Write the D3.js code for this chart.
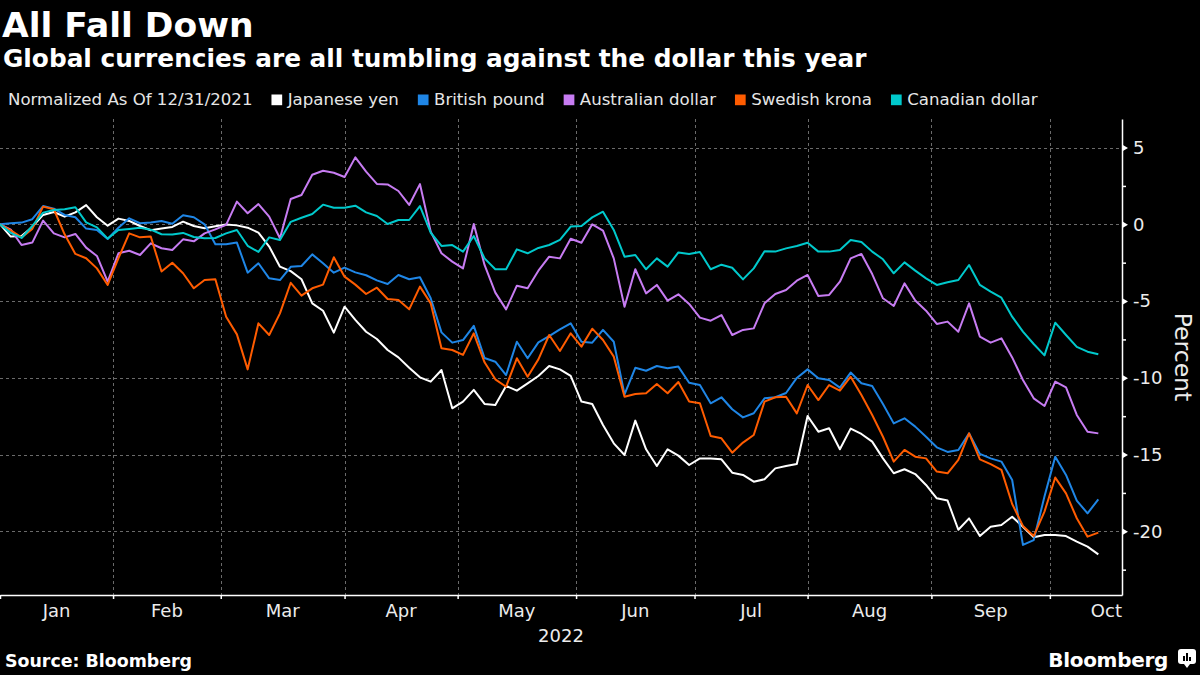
<!DOCTYPE html>
<html>

<head>
    <meta charset="UTF-8">
    <script src="https://cdn.jsdelivr.net/npm/d3@7/dist/d3.min.js"></script>
    <style>
        body {
            margin: 0;
            background-color: #000;
        }

        svg {
            display: block;
        }

        text {
            font-family: 'DejaVu Sans', sans-serif;
        }
    </style>
</head>

<body>
    <svg id="chart" width="1200" height="675"></svg>
    <script>
        // percent change vs USD, normalized as of 12/31/2021
        // one reading every second trading day, starting Mon Jan 3 2022
        var sampleStep = 2;

        var seriesNames = ["Japanese yen", "British pound", "Australian dollar", "Swedish krona", "Canadian dollar"];
        var seriesColors = ["#ffffff", "#1f86e6", "#c77cf2", "#ff5c00", "#00c9cc"];

        var yen = [0, -0.8, -0.76, -0.17, 0.61, 0.8, 0.5, 0.78, 1.25, 0.46,
            -0.09, 0.37, 0.22, -0.11, -0.39, -0.28, -0.17, 0.17, -0.11, -0.26,
            -0.13, -0.02, -0.07, -0.22, -0.54, -1.45, -2.76, -3.05, -3.58, -5.15,
            -5.63, -7.06, -5.37, -6.23, -7.0, -7.47, -8.19, -8.67, -9.34, -9.97,
            -10.25, -9.49, -11.99, -11.55, -10.79, -11.7, -11.77, -10.53, -10.84, -10.36,
            -9.88, -9.23, -9.45, -9.88, -11.55, -11.71, -13.07, -14.27, -15.03, -12.79,
            -14.66, -15.75, -14.66, -15.07, -15.68, -15.25, -15.25, -15.31, -16.18, -16.33,
            -16.77, -16.61, -15.9, -15.75, -15.62, -12.49, -13.51, -13.29, -14.66, -13.31,
            -13.66, -14.16, -15.25, -16.22, -15.96, -16.27, -16.98, -17.85, -18.0, -19.9,
            -19.16, -20.31, -19.7, -19.59, -19.05, -19.7, -20.39, -20.24, -20.24, -20.31,
            -20.67, -21.0, -21.5];

        var pound = [0, 0.07, 0.11, 0.33, 1.19, 1.02, 0.61, 0.46, -0.28, -0.37,
            -0.96, -0.22, 0.39, 0.07, 0.11, 0.22, 0.04, 0.59, 0.46, 0,
            -1.3, -1.3, -1.19, -3.15, -2.54, -3.52, -3.63, -2.77, -2.72, -1.96,
            -2.54, -3.15, -2.82, -3.13, -3.32, -3.65, -3.89, -3.3, -3.58, -3.45,
            -4.82, -7.04, -7.71, -7.54, -6.62, -8.71, -8.95, -9.82, -7.65, -8.73,
            -7.69, -7.28, -6.84, -6.45, -7.65, -7.71, -6.88, -7.65, -11.08, -9.35,
            -9.54, -9.23, -9.38, -9.27, -10.32, -10.47, -11.66, -11.27, -12.05, -12.58,
            -12.31, -11.34, -11.27, -10.99, -10.01, -9.45, -10.03, -10.14, -10.64, -9.66,
            -10.36, -10.53, -11.71, -12.97, -12.64, -13.18, -13.84, -14.53, -14.83, -14.7,
            -13.62, -14.96, -15.25, -15.46, -16.66, -20.89, -20.57, -17.74, -15.14, -16.33,
            -18.0, -18.83, -17.92];

        var aussie = [0, -0.35, -1.35, -1.19, 0.24, -0.59, -0.85, -0.63, -1.52, -2.06,
            -3.73, -1.89, -1.72, -2.0, -1.24, -1.56, -1.67, -0.98, -1.11, -0.59,
            -0.33, -0.04, 1.48, 0.72, 1.32, 0.5, -0.91, 1.65, 1.91, 3.23,
            3.49, 3.36, 3.08, 4.36, 3.43, 2.63, 2.6, 2.17, 1.26, 2.62,
            -0.48, -1.89, -2.43, -2.87, 0.02, -2.65, -4.45, -5.54, -4.0, -4.17,
            -3.02, -2.11, -2.22, -0.94, -1.2, 0.0, -0.41, -2.22, -5.37, -2.93,
            -4.5, -3.95, -4.97, -4.56, -5.19, -6.08, -6.28, -5.91, -7.21, -6.88,
            -6.78, -5.15, -4.54, -4.28, -3.67, -3.3, -4.67, -4.6, -3.74, -2.22,
            -1.93, -3.24, -4.82, -5.32, -3.85, -4.97, -5.63, -6.49, -6.34, -7.0,
            -5.15, -7.32, -7.71, -7.43, -8.67, -10.14, -11.34, -11.84, -10.25, -10.62,
            -12.42, -13.51, -13.62];

        var krona = [0, -0.39, -0.85, -0.3, 1.15, 0.98, -0.65, -1.93, -2.21, -2.87,
            -3.95, -2.21, -0.59, -0.85, -0.8, -3.08, -2.5, -3.19, -4.17, -3.63,
            -3.58, -6.02, -7.17, -9.45, -6.45, -7.21, -5.8, -3.81, -4.65, -4.17,
            -3.93, -2.15, -3.41, -3.93, -4.54, -4.13, -4.87, -4.93, -5.54, -4.06,
            -5.15, -8.08, -8.19, -8.51, -7.1, -8.99, -10.1, -10.58, -8.73, -9.93,
            -8.8, -7.21, -8.25, -7.1, -7.97, -6.8, -7.54, -8.62, -11.23, -11.05,
            -11.01, -10.4, -11.01, -10.27, -11.55, -11.66, -13.79, -13.94, -14.88, -14.22,
            -13.73, -11.55, -11.27, -11.23, -12.32, -10.47, -11.45, -10.47, -10.84, -9.93,
            -11.12, -12.42, -13.84, -15.46, -14.7, -15.14, -15.25, -16.11, -16.22, -15.35,
            -13.62, -15.31, -15.62, -16.0, -18.22, -19.65, -20.31, -18.72, -16.5, -17.53,
            -19.15, -20.35, -20.09];

        var loonie = [0, -0.56, -0.89, -0.11, 0.76, 0.93, 0.98, 1.11, 0.13, -0.2,
            -0.93, -0.37, -0.3, -0.22, -0.35, -0.65, -0.67, -0.56, -0.83, -0.91,
            -0.89, -0.59, -0.37, -1.4, -1.8, -0.85, -1.02, 0.16, 0.43, 0.67,
            1.28, 1.08, 1.08, 1.21, 0.78, 0.54, 0.02, 0.28, 0.28, 1.19,
            -0.55, -1.41, -1.35, -1.78, -0.76, -2.22, -2.93, -2.93, -1.63, -1.89,
            -1.54, -1.35, -1.02, -0.15, -0.11, 0.45, 0.82, -0.37, -2.11, -2.0,
            -2.93, -2.22, -2.76, -1.83, -1.93, -1.8, -2.93, -2.63, -2.83, -3.59,
            -2.87, -1.76, -1.78, -1.57, -1.41, -1.2, -1.78, -1.78, -1.67, -1.02,
            -1.15, -1.78, -2.28, -3.19, -2.48, -3.02, -3.52, -3.95, -3.78, -3.63,
            -2.65, -3.95, -4.39, -4.78, -6.02, -6.99, -7.8, -8.54, -6.41, -7.21,
            -7.99, -8.3, -8.47];

        var allSeries = [yen, pound, aussie, krona, loonie];

        var yTicks = [5, 0, -5, -10, -15, -20];
        var yMinorTicks = [2.5, -2.5, -7.5, -12.5, -17.5, -22.5];
        var monthLabels = ["Jan", "Feb", "Mar", "Apr", "May", "Jun", "Jul", "Aug", "Sep", "Oct"];
        var yearLabel = "2022";

        var svg = d3.select("#chart");
        var W = 1200, H = 675;
        var plot = { left: 0, right: 1122, top: 119, bottom: 595 };

        svg.append("rect").attr("width", W).attr("height", H).attr("fill", "#000");

        // trading-day calendar (weekdays) so the x axis spaces by session, not calendar day
        var tradingDays = d3.timeDay.range(new Date(2022, 0, 3), new Date(2022, 10, 2))
            .filter(function (d) { return d.getDay() > 0 && d.getDay() < 6; });

        var monthStarts = [];
        tradingDays.forEach(function (d, i) {
            if (i === 0 || d.getMonth() !== tradingDays[i - 1].getMonth()) monthStarts.push(i);
        });

        var lastIdx = (yen.length - 1) * sampleStep;
        var x = d3.scaleLinear().domain([0, lastIdx + 4.4]).range([plot.left, plot.right]);
        var y = d3.scaleLinear().domain([-24.15, 6.86]).range([plot.bottom, plot.top]);

        // grid
        var grid = svg.append("g")
            .attr("stroke", "#6a6a6a")
            .attr("stroke-width", 1)
            .attr("stroke-dasharray", "3,3");

        grid.selectAll("line.h")
            .data(yTicks)
            .enter()
            .append("line")
            .attr("x1", plot.left).attr("x2", plot.right)
            .attr("y1", function (d) { return Math.round(y(d)) + 0.5; })
            .attr("y2", function (d) { return Math.round(y(d)) + 0.5; });

        grid.selectAll("line.v")
            .data(monthStarts.filter(function (i) { return i > 0 && x(i) < plot.right; }))
            .enter()
            .append("line")
            .attr("y1", plot.top).attr("y2", plot.bottom)
            .attr("x1", function (d) { return Math.round(x(d)) + 0.5; })
            .attr("x2", function (d) { return Math.round(x(d)) + 0.5; });

        // x axis
        var xAxis = d3.axisBottom(x)
            .tickValues(monthStarts.filter(function (i) { return x(i) <= plot.right; }))
            .tickSize(4)
            .tickSizeOuter(0)
            .tickFormat("");

        var gx = svg.append("g")
            .attr("transform", "translate(0," + plot.bottom + ")")
            .call(xAxis);
        gx.selectAll("path, line").attr("stroke", "#fff").attr("stroke-width", 1.5);

        var monthMid = monthLabels.map(function (m, i) {
            return { label: m, pos: (x(monthStarts[i]) + x(monthStarts[i + 1])) / 2 };
        });

        svg.selectAll("text.month")
            .data(monthMid)
            .enter()
            .append("text")
            .attr("class", "month")
            .attr("x", function (d) { return d.pos; })
            .attr("y", 617)
            .attr("text-anchor", "middle")
            .attr("fill", "#ececec")
            .style("font-size", "18px")
            .text(function (d) { return d.label; });

        svg.append("text")
            .attr("x", (plot.left + plot.right) / 2)
            .attr("y", 642)
            .attr("text-anchor", "middle")
            .attr("fill", "#ececec")
            .style("font-size", "18px")
            .text(yearLabel);

        // y axis on the right
        var yAxis = d3.axisRight(y)
            .tickValues(yTicks)
            .tickSize(0)
            .tickSizeOuter(0)
            .tickPadding(11)
            .tickFormat(function (d) { return String(d); });

        var gy = svg.append("g")
            .attr("transform", "translate(" + plot.right + ",0)")
            .call(yAxis);
        gy.select(".domain").attr("stroke", "#fff").attr("stroke-width", 1.5);
        gy.selectAll("text")
            .attr("fill", "#ececec")
            .style("font-size", "18px")
            .style("font-family", "'DejaVu Sans', sans-serif");
        gy.selectAll(".tick")
            .append("path")
            .attr("d", "M0,-3.5L6,0L0,3.5Z")
            .attr("fill", "#fff");

        var yMinor = d3.axisRight(y)
            .tickValues(yMinorTicks)
            .tickSize(4)
            .tickSizeOuter(0)
            .tickFormat("");
        var gym = svg.append("g")
            .attr("transform", "translate(" + plot.right + ",0)")
            .call(yMinor);
        gym.select(".domain").remove();
        gym.selectAll("line").attr("stroke", "#fff").attr("stroke-width", 1.5);

        svg.append("text")
            .attr("transform", "translate(1183," + ((plot.top + plot.bottom) / 2) + ") rotate(90)")
            .attr("text-anchor", "middle")
            .attr("dy", "0.35em")
            .attr("fill", "#ececec")
            .style("font-size", "23.5px")
            .text("Percent");

        // series lines
        var line = d3.line()
            .x(function (d, i) { return x(i * sampleStep); })
            .y(function (d) { return y(d); });

        svg.append("g")
            .selectAll("path")
            .data(allSeries)
            .enter()
            .append("path")
            .attr("d", line)
            .attr("fill", "none")
            .attr("stroke", function (d, i) { return seriesColors[i]; })
            .attr("stroke-width", 2)
            .attr("stroke-linejoin", "round");

        // titles
        svg.append("text")
            .attr("x", 2).attr("y", 37)
            .attr("fill", "#fff")
            .style("font-size", "34.5px")
            .style("font-weight", "bold")
            .text("All Fall Down");

        svg.append("text")
            .attr("x", 3).attr("y", 67)
            .attr("fill", "#fff")
            .style("font-size", "24.8px")
            .style("font-weight", "bold")
            .text("Global currencies are all tumbling against the dollar this year");

        // legend
        var legend = svg.append("g").attr("transform", "translate(0,105)");
        var cursor = 8;
        var lead = legend.append("text")
            .attr("x", cursor).attr("y", 0)
            .attr("fill", "#e6e6e6")
            .style("font-size", "16.6px")
            .text("Normalized As Of 12/31/2021");
        cursor += lead.node().getComputedTextLength() + 19;

        seriesNames.forEach(function (name, i) {
            legend.append("rect")
                .attr("x", cursor).attr("y", -10.5)
                .attr("width", 10.7).attr("height", 10.7)
                .attr("fill", seriesColors[i]);
            cursor += 10.7 + 5.5;
            var t = legend.append("text")
                .attr("x", cursor).attr("y", 0)
                .attr("fill", "#e6e6e6")
                .style("font-size", "16.6px")
                .text(name);
            cursor += t.node().getComputedTextLength() + 19;
        });

        // footer
        svg.append("text")
            .attr("x", 5).attr("y", 667)
            .attr("fill", "#fff")
            .style("font-size", "17.4px")
            .style("font-weight", "bold")
            .text("Source: Bloomberg");

        svg.append("text")
            .attr("x", 1168).attr("y", 667)
            .attr("text-anchor", "end")
            .attr("fill", "#fff")
            .style("font-size", "20px")
            .style("font-weight", "bold")
            .style("letter-spacing", "-0.3px")
            .text("Bloomberg");

        var logo = svg.append("g").attr("transform", "translate(1178,649)");
        logo.append("rect")
            .attr("width", 18).attr("height", 15)
            .attr("rx", 3)
            .attr("fill", "#fff");
        logo.append("path")
            .attr("d", "M6,15L9,19L12,15Z")
            .attr("fill", "#fff");
        logo.selectAll("rect.bar")
            .data([5, 8, 4])
            .enter()
            .append("rect")
            .attr("x", function (d, i) { return 5 + i * 3; })
            .attr("y", function (d) { return 12 - d; })
            .attr("width", 2)
            .attr("height", function (d) { return d; })
            .attr("fill", "#000");
    </script>
</body>

</html>
